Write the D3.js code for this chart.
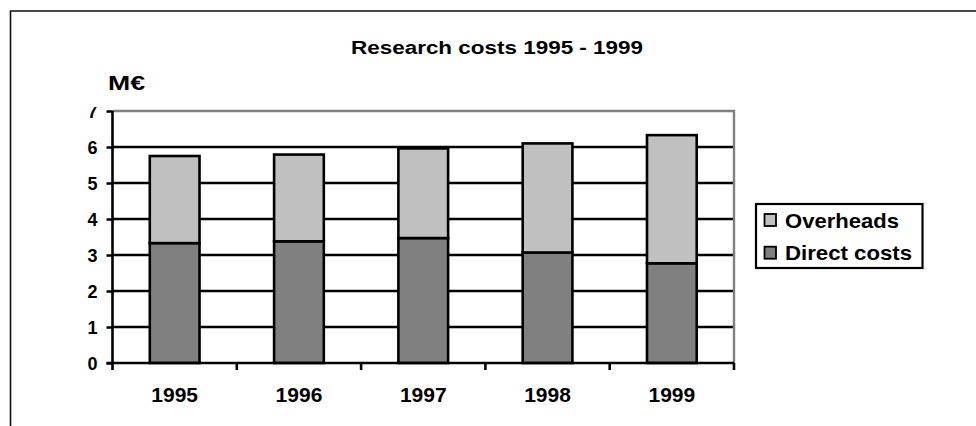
<!DOCTYPE html>
<html><head><meta charset="utf-8">
<script src="https://cdn.jsdelivr.net/npm/d3@7"></script>
<style>body{margin:0;background:#fff}svg{display:block}text{font-family:"Liberation Sans",Arial,sans-serif;font-weight:bold;fill:#000}</style>
</head><body>
<svg id="c" width="976" height="426"></svg>
<script>
const years = ["1995","1996","1997","1998","1999"];
const directCosts = [3.33, 3.38, 3.47, 3.07, 2.77];
const overheads = [2.42, 2.41, 2.49, 3.03, 3.56];
const yTicks = [0,1,2,3,4,5,6,7];
const seriesNames = ["Overheads","Direct costs"];
const titleText = "Research costs 1995 - 1999";
const unitText = "M€";

const svg = d3.select("#c");
const L = 112.5, R = 734, T = 111, B = 363;
const x = d3.scaleBand().domain(years).range([L, R]).paddingInner(0.6).paddingOuter(0.3);
const xb = d3.scaleBand().domain(years).range([L, R]);
const y = d3.scaleLinear().domain([0, 7]).range([B, T]);
const SW = 2.6;

// outer frame
svg.append("path").attr("d", "M10.5,426 V11 H976").attr("fill","none").attr("stroke","#111").attr("stroke-width",1.6);

// title
svg.append("text").attr("x", 497).attr("y", 54).attr("text-anchor","middle")
  .attr("font-size", 17.5).attr("textLength", 292).attr("lengthAdjust","spacingAndGlyphs").text(titleText);
svg.append("text").attr("x", 108).attr("y", 89.5).attr("font-size", 20)
  .attr("textLength", 37).attr("lengthAdjust","spacingAndGlyphs").text(unitText);

// gridlines
svg.append("g").selectAll("line").data(yTicks.filter(d => d > 0 && d < 7)).join("line")
  .attr("x1", L).attr("x2", R).attr("y1", d => y(d)).attr("y2", d => y(d))
  .attr("stroke","#000").attr("stroke-width",SW);
// plot area top/right border (gray)
svg.append("path").attr("d", `M${L},${y(7)} H${R} V${B}`).attr("fill","none").attr("stroke","#808080").attr("stroke-width",2.4);

// stacked bars
const stackData = years.map((yr,i) => ({year: yr, "Direct costs": directCosts[i], "Overheads": overheads[i]}));
const stack = d3.stack().keys(["Direct costs","Overheads"])(stackData);
const colors = {"Direct costs":"#808080","Overheads":"#C0C0C0"};
svg.append("g").selectAll("g").data(stack).join("g").attr("fill", d => colors[d.key])
  .selectAll("rect").data(d => d).join("rect")
  .attr("x", d => x(d.data.year)).attr("width", x.bandwidth())
  .attr("y", d => y(d[1])).attr("height", d => y(d[0]) - y(d[1]))
  .attr("stroke","#000").attr("stroke-width",SW);

// y axis
const clip = svg.append("defs").append("clipPath").attr("id","yc");
clip.append("rect").attr("x",-120).attr("y",107).attr("width",130).attr("height",300);
const ya = svg.append("g").attr("transform", `translate(${L},0)`).attr("clip-path","url(#yc)")
  .call(d3.axisLeft(y).tickValues(yTicks).tickFormat(d3.format("d")).tickSize(6).tickPadding(9));
ya.select(".domain").attr("stroke","#000").attr("stroke-width",SW).attr("d", `M0,${y(7)}V${B}`);
ya.selectAll(".tick line").attr("stroke","#000").attr("stroke-width",SW);
ya.selectAll(".tick text").attr("font-size",18).attr("font-family",null).attr("fill","#000").attr("dy","0.36em");

// x axis
const xa = svg.append("g").attr("transform", `translate(0,${B})`)
  .call(d3.axisBottom(xb).tickSize(0).tickPadding(0));
xa.select(".domain").attr("stroke","#000").attr("stroke-width",SW).attr("d", `M${L-6},0H${R}`);
xa.selectAll(".tick text").attr("font-size",21).attr("font-family",null).attr("fill","#000").attr("y",38.5).attr("dy",0);
svg.append("g").selectAll("line").data(years.map(d => xb(d)).concat([R])).join("line")
  .attr("x1", d => d).attr("x2", d => d).attr("y1", B).attr("y2", B + 7)
  .attr("stroke","#000").attr("stroke-width",SW);

// legend
const lg = svg.append("g");
lg.append("rect").attr("x",756).attr("y",204).attr("width",166.5).attr("height",64)
  .attr("fill","#fff").attr("stroke","#000").attr("stroke-width",2.2);
seriesNames.forEach((name,i) => {
  const yy = 214 + i*32.7;
  lg.append("rect").attr("x",764.5).attr("y",yy).attr("width",11.5).attr("height",12)
    .attr("fill", colors[name]).attr("stroke","#000").attr("stroke-width",1.8);
  lg.append("text").attr("x",785).attr("y",yy+13.7).attr("font-size",21)
    .attr("textLength", i===0?114:127).attr("lengthAdjust","spacingAndGlyphs").text(name);
});
</script>
</body></html>
